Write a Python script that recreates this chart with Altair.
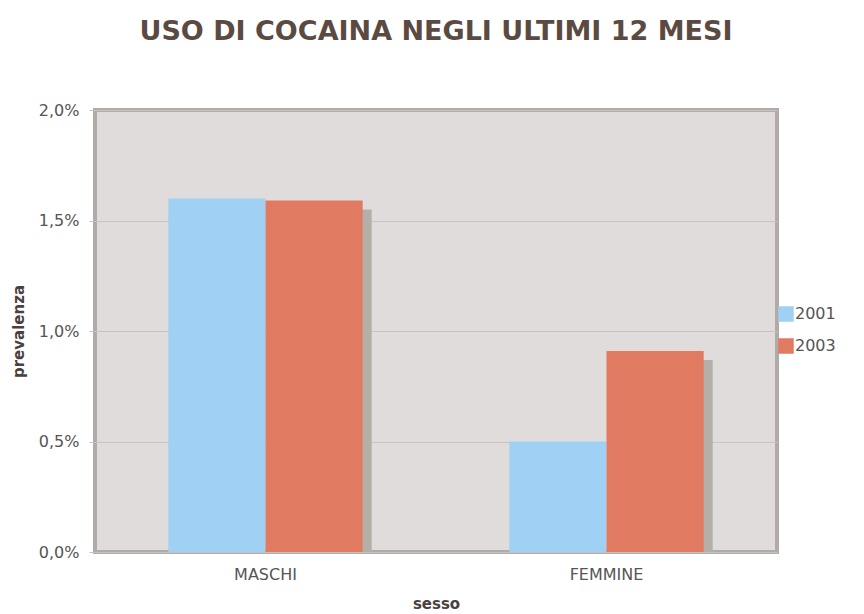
import altair as alt
import pandas as pd

categories = ["MASCHI", "FEMMINE"]
years = ["2001", "2003"]
values_2001 = [1.60, 0.50]
values_2003 = [1.59, 0.91]

rows = []
for i, c in enumerate(categories):
    rows.append({"sesso": c, "anno": "2001", "prevalenza": values_2001[i]})
    rows.append({"sesso": c, "anno": "2003", "prevalenza": values_2003[i]})
df = pd.DataFrame(rows)

FONT = "DejaVu Sans"
PW, PH = 682, 442
P_IN, P_OUT = 0.43, 0.215
step = PW / (len(categories) - P_IN + 2 * P_OUT)
bw = step * (1 - P_IN)

x_enc = alt.X("sesso:N", sort=categories, title="sesso",
              scale=alt.Scale(paddingInner=P_IN, paddingOuter=P_OUT),
              axis=alt.Axis(labelAngle=0, labelFontSize=16, labelColor="#555555",
                            labelFont=FONT, titleFont=FONT, titleFontSize=15,
                            titleFontWeight="bold", titleColor="#4a4040",
                            ticks=False, domain=False, labelPadding=14, titlePadding=14))
y_scale = alt.Scale(domain=[0, 2.0])
y_axis = alt.Axis(values=[0, 0.5, 1.0, 1.5, 2.0],
                  labelExpr="replace(format(datum.value, '.1f'), '.', ',') + '%'",
                  labelFontSize=16, labelColor="#555555", labelFont=FONT,
                  title="prevalenza", titleFont=FONT, titleFontSize=15,
                  titleFontWeight="bold", titleColor="#4a4040", titlePadding=12,
                  grid=True, gridColor="#c8c3c3", gridWidth=1, domain=False,
                  ticks=True, tickColor="#c8c3c3", tickSize=6, labelPadding=10)

shadow = alt.Chart(df).transform_filter("datum.anno == '2003'").mark_bar(
    color="#b5afaa", yOffset=9, clip=True
).encode(
    x=x_enc,
    xOffset=alt.XOffset("anno:N", sort=years,
                        scale=alt.Scale(domain=years, range=[9, bw + 9])),
    y=alt.Y("prevalenza:Q", scale=y_scale, axis=y_axis),
)

bars = alt.Chart(df).mark_bar().encode(
    x=x_enc,
    xOffset=alt.XOffset("anno:N", sort=years,
                        scale=alt.Scale(domain=years, range=[0, bw])),
    y=alt.Y("prevalenza:Q", scale=y_scale, axis=y_axis),
    color=alt.Color("anno:N", sort=years,
                    scale=alt.Scale(domain=years, range=["#a0d0f3", "#e07b61"]),
                    legend=alt.Legend(title=None, orient="none", legendX=683, legendY=196,
                                      symbolType="square", symbolSize=240,
                                      symbolStrokeWidth=0, labelFontSize=16,
                                      labelColor="#555555", labelFont=FONT,
                                      rowPadding=16, labelOffset=1)),
)

chart = alt.layer(shadow, bars).resolve_scale(xOffset="independent").properties(
    width=PW, height=PH,
    title=alt.TitleParams("USO DI COCAINA NEGLI ULTIMI 12 MESI", fontSize=27,
                          font=FONT, fontWeight="bold", color="#5b4a42",
                          offset=56, anchor="middle"),
    autosize=alt.AutoSizeParams(type="none"),
    padding={"left": 95, "top": 110, "right": 87, "bottom": 62},
    background="white",
).configure_view(
    fill="#e0dcdc", stroke="#b1aba8", strokeWidth=4
)

chart.save("out.html", embed_options={"renderer": "svg", "actions": False})
